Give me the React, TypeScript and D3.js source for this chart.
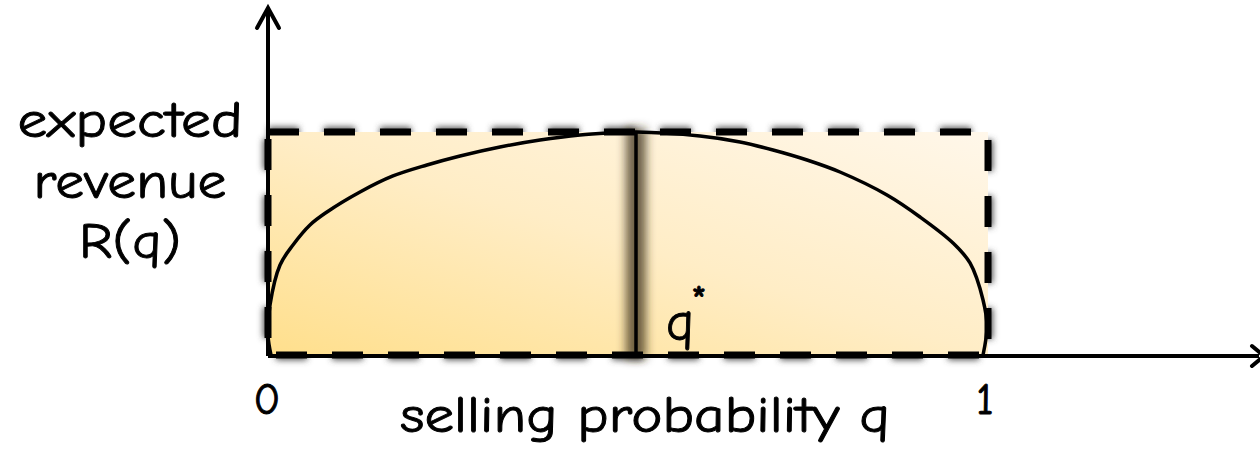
import React from "react";
import * as d3 from "d3";

// Curve samples: selling probability q and expected revenue R(q) (normalised)
const qValues = [0.0042, 0, 0.0028, 0.0167, 0.0347, 0.0583, 0.0819, 0.1278, 0.1736, 0.2208, 0.2667, 0.3222, 0.3778, 0.4333, 0.475, 0.5111, 0.6, 0.6556, 0.7014, 0.7486, 0.7944, 0.8597, 0.9056, 0.9514, 0.975, 0.9931, 0.9986, 0.9931];
const rValues = [0, 0.0897, 0.2242, 0.4036, 0.4933, 0.583, 0.6413, 0.7309, 0.8027, 0.852, 0.8924, 0.9327, 0.9641, 0.9865, 0.9955, 1.0, 0.9821, 0.9552, 0.9193, 0.8744, 0.8206, 0.7175, 0.6188, 0.5022, 0.4126, 0.2466, 0.1256, 0];
const qStar = 0.5111;
const xTickLabels = ["0", "1"];
const xTickValues = [0, 1];
const yLabelLines = ["expected", "revenue", "R(q)"];
const xLabel = "selling probability q";

const FONT = "'Comic Sans MS', 'Comic Neue', Lato, sans-serif";

export default function App() {
  const W = 1260;
  const H = 453;
  const x = d3.scaleLinear().domain([0, 1]).range([268, 988]);
  const y = d3.scaleLinear().domain([0, 1]).range([355, 132]);

  const pts: [number, number][] = qValues.map((q, i) => [x(q), y(rValues[i])]);
  const line = d3.line().curve(d3.curveCatmullRom.alpha(0.5));
  const curvePath = line(pts) || "";

  const rx = x(0), ry = y(1), rw = x(1) - x(0), rh = y(0) - y(1);
  const rectPath = `M${rx},${ry} H${rx + rw} V${ry + rh} H${rx} Z`;

  const axisX = 268;
  const axisY = 356;

  const lineWidths = [225, 193, 102];
  const lineBaselines = [137, 198, 258];

  const textStroke = { stroke: "#000", strokeWidth: 0.9 };

  return (
    <svg width={W} height={H} style={{ position: "absolute", left: 0, top: 0 }} xmlns="http://www.w3.org/2000/svg">
      <defs>
        <linearGradient id="fillGrad" x1="0" y1="1" x2="1" y2="0">
          <stop offset="0" stopColor="#FFDF8C" />
          <stop offset="0.5" stopColor="#FFEDC6" />
          <stop offset="1" stopColor="#FFF7EA" />
        </linearGradient>
        <filter id="blur3" x="-20%" y="-20%" width="140%" height="140%">
          <feGaussianBlur stdDeviation="3" />
        </filter>
        <filter id="blur5" x="-200%" y="-20%" width="500%" height="140%">
          <feGaussianBlur stdDeviation="5" />
        </filter>
      </defs>
      <rect width={W} height={H} fill="#ffffff" />

      {/* shadow of dashed frame */}
      <path d={rectPath} fill="none" stroke="#4a4a4a" strokeOpacity={0.95} strokeWidth={10} strokeDasharray="31 25" filter="url(#blur3)" />

      {/* gradient fill */}
      <rect x={rx} y={ry} width={rw} height={rh} fill="url(#fillGrad)" />

      {/* shadow of q* line */}
      <rect x={x(qStar) - 10} y={ry - 4} width={20} height={rh + 8} fill="#3e3018" fillOpacity={0.75} filter="url(#blur5)" />
      <line x1={x(qStar)} x2={x(qStar)} y1={y(0)} y2={y(1)} stroke="#000" strokeWidth={3.5} />

      {/* revenue curve */}
      <path d={curvePath} fill="none" stroke="#000" strokeWidth={3.5} />

      {/* dashed frame */}
      <path d={rectPath} fill="none" stroke="#000" strokeWidth={7} strokeDasharray="31 25" />

      {/* axes */}
      <line x1={axisX} x2={axisX} y1={axisY} y2={8} stroke="#000" strokeWidth={4} />
      <polyline points={`${axisX - 11},${28} ${axisX},${8} ${axisX + 11},${28}`} fill="none" stroke="#000" strokeWidth={4} strokeLinecap="round" strokeLinejoin="miter" />
      <line x1={axisX} x2={1259} y1={axisY} y2={axisY} stroke="#000" strokeWidth={4} />
      <polyline points={`${1252},${axisY - 10} ${1264},${axisY} ${1252},${axisY + 10}`} fill="none" stroke="#000" strokeWidth={4} strokeLinecap="round" />

      {/* y label */}
      {yLabelLines.map((t, i) => (
        <text key={t} x={130} y={lineBaselines[i]} textAnchor="middle" fontFamily={FONT} fontSize={50} textLength={lineWidths[i]} lengthAdjust="spacingAndGlyphs" fill="#000" {...textStroke}>
          {t}
        </text>
      ))}

      {/* x tick labels */}
      {xTickValues.map((v, i) => (
        <text key={i} x={x(v) + (v === 0 ? -1 : -3)} y={414} textAnchor="middle" fontFamily={FONT} fontSize={44} fill="#000" {...textStroke}>
          {xTickLabels[i]}
        </text>
      ))}

      {/* x label */}
      <text x={645} y={432} textAnchor="middle" fontFamily={FONT} fontSize={50} textLength={490} lengthAdjust="spacingAndGlyphs" fill="#000" {...textStroke}>
        {xLabel}
      </text>

      {/* q* label */}
      <text x={666} y={340} fontFamily={FONT} fontSize={54} fill="#000" {...textStroke}>
        q
        <tspan dx={-3} dy={-26} fontSize={40}>*</tspan>
      </text>
    </svg>
  );
}
